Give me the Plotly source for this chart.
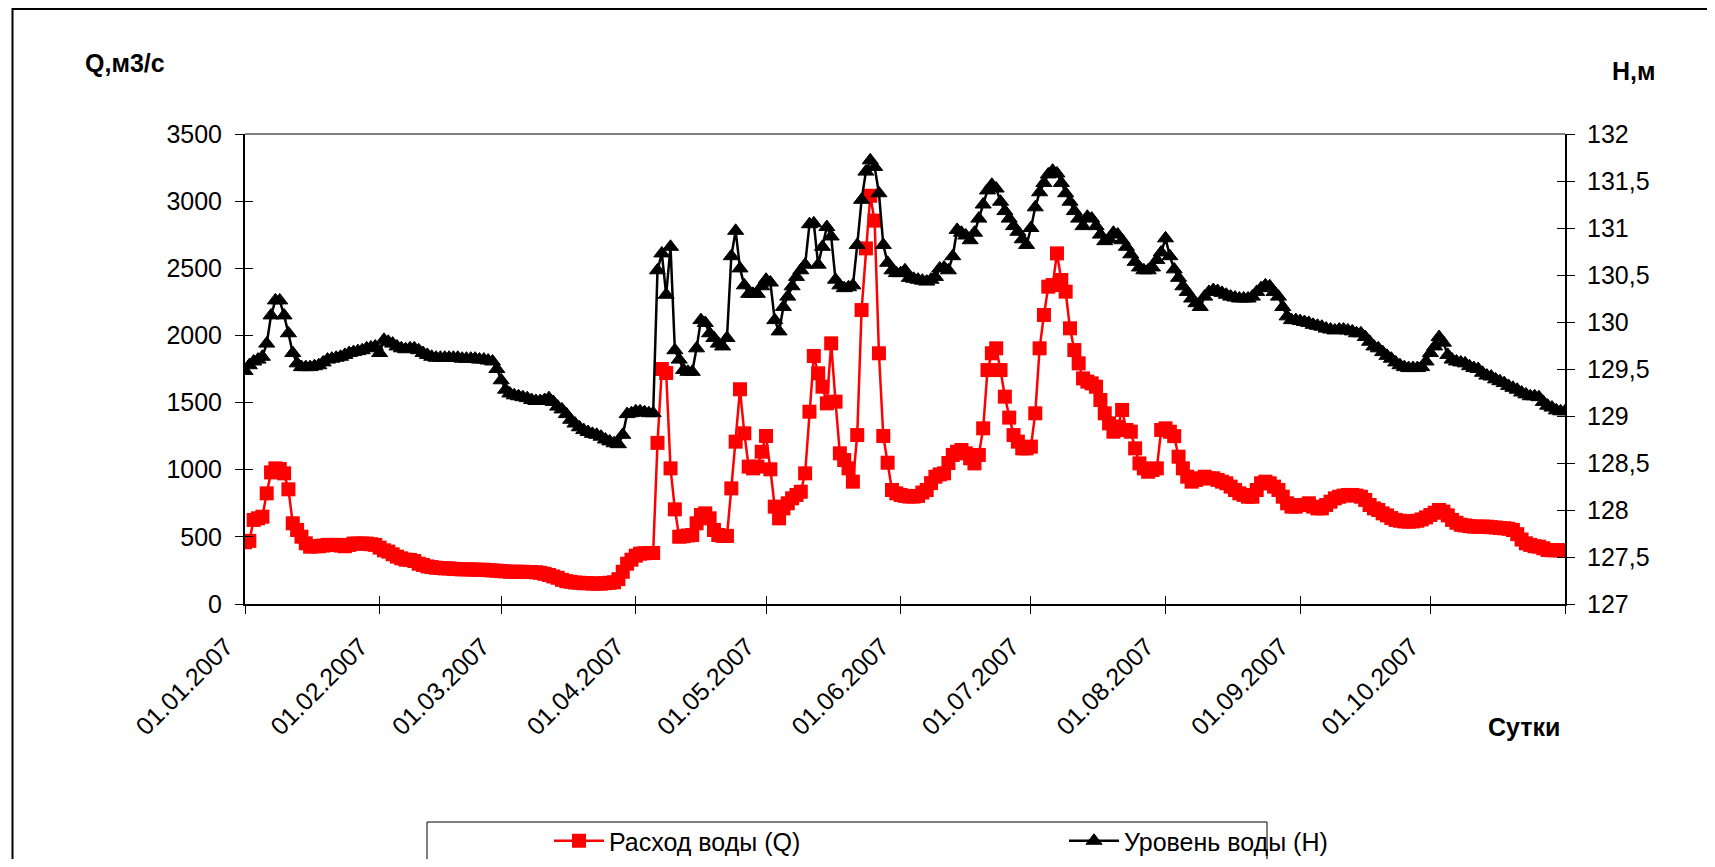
import datetime as dt
import plotly.graph_objects as go

# ---------------- data (daily, 01.01.2007 - 01.11.2007) ----------------
start_date = "2007-01-01"

q_jan = [460, 470, 626, 638, 650, 824, 980, 1010, 1005, 973, 854, 601, 551, 501, 452, 427, 430, 430, 435, 440,
         440, 440, 435, 430, 440, 450, 450, 450, 450, 445, 440]
q_feb = [420, 400, 390, 370, 353, 340, 330, 328, 320, 300, 291, 280, 275, 270, 268, 265, 265, 262, 260, 258,
         258, 258, 255, 255, 255, 252, 250, 248]
q_mar = [245, 243, 240, 240, 240, 240, 238, 238, 236, 232, 225, 216, 205, 195, 180, 170, 165, 160, 158, 155,
         155, 152, 152, 152, 155, 158, 162, 185, 240, 300, 330]
q_apr = [360, 375, 378, 380, 380, 1200, 1750, 1720, 1010, 705, 501, 505, 510, 514, 601, 663, 675, 638, 551, 514,
         507, 507, 861, 1209, 1599, 1271, 1023, 1010, 1023, 1134]
q_may = [1251, 1003, 725, 638, 712, 750, 787, 812, 836, 973, 1432, 1847, 1718, 1618, 1494, 1941, 1507, 1122, 1072,
         1010, 911, 1258, 2189, 2648, 3040, 2855, 1867, 1251, 1052, 849, 824]
q_jun = [812, 805, 800, 800, 805, 830, 849, 900, 948, 965, 973, 1050, 1110, 1134, 1147, 1122, 1085, 1047, 1110,
         1308, 1742, 1867, 1904, 1742, 1544, 1388, 1258, 1209, 1159, 1159]
q_jul = [1172, 1420, 1904, 2152, 2363, 2375, 2611, 2413, 2326, 2053, 1891, 1792, 1680, 1656, 1643, 1618, 1519,
         1420, 1345, 1283, 1320, 1445, 1296, 1283, 1159, 1047, 1010, 985, 998, 1010, 1296]
q_aug = [1308, 1283, 1250, 1097, 1010, 948, 911, 924, 936, 948, 936, 936, 924, 911, 899, 874, 849, 824, 812, 799,
         799, 849, 899, 911, 899, 874, 849, 799, 750, 725, 725]
q_sep = [737, 737, 750, 725, 712, 712, 737, 762, 787, 799, 807, 812, 812, 807, 799, 775, 737, 712, 700, 675,
         660, 640, 626, 620, 615, 613, 615, 620, 630, 645]
q_oct = [663, 680, 700, 688, 660, 626, 605, 590, 585, 580, 576, 576, 576, 576, 572, 570, 566, 564, 560, 551,
         520, 480, 452, 440, 430, 427, 415, 402, 400, 400, 400]
q_nov = [400]

h_jan = [129.48, 129.54, 129.58, 129.60, 129.63, 129.77, 130.07, 130.23, 130.23, 130.07, 129.88, 129.67, 129.56,
         129.52, 129.52, 129.52, 129.53, 129.54, 129.57, 129.60, 129.61, 129.62, 129.63, 129.65, 129.67, 129.68,
         129.69, 129.70, 129.72, 129.73, 129.74]
h_feb = [129.67, 129.81, 129.79, 129.77, 129.74, 129.72, 129.71, 129.72, 129.72, 129.70, 129.67, 129.65, 129.63,
         129.62, 129.62, 129.62, 129.62, 129.62, 129.62, 129.61, 129.61, 129.61, 129.61, 129.60, 129.60, 129.59,
         129.58, 129.50]
h_mar = [129.38, 129.28, 129.24, 129.22, 129.21, 129.20, 129.19, 129.17, 129.16, 129.16, 129.17, 129.19, 129.15,
         129.10, 129.07, 129.02, 128.96, 128.92, 128.88, 128.85, 128.83, 128.81, 128.80, 128.78, 128.75, 128.73,
         128.71, 128.70, 128.80, 129.02, 129.03]
h_apr = [129.05, 129.05, 129.04, 129.03, 129.03, 130.55, 130.73, 130.29, 130.80, 129.70, 129.60, 129.49, 129.47,
         129.47, 129.72, 130.02, 129.99, 129.88, 129.83, 129.77, 129.74, 129.83, 130.70, 130.97, 130.57, 130.39,
         130.30, 130.30, 130.30, 130.38]
h_may = [130.45, 130.42, 130.02, 129.90, 130.16, 130.27, 130.38, 130.48, 130.55, 130.61, 131.04, 131.05, 130.61,
         130.80, 131.01, 130.91, 130.45, 130.39, 130.36, 130.37, 130.39, 130.82, 131.30, 131.60, 131.72, 131.65,
         131.37, 130.82, 130.63, 130.55, 130.52]
h_jun = [130.52, 130.55, 130.47, 130.46, 130.45, 130.44, 130.43, 130.45, 130.48, 130.57, 130.58, 130.55, 130.70,
         130.98, 130.95, 130.92, 130.87, 130.95, 131.10, 131.25, 131.40, 131.46, 131.42, 131.28, 131.18, 131.10,
         131.02, 130.96, 130.88, 130.82]
h_jul = [131.00, 131.22, 131.38, 131.48, 131.57, 131.61, 131.58, 131.48, 131.37, 131.28, 131.18, 131.10, 131.02,
         131.12, 131.10, 131.02, 130.93, 130.86, 130.88, 130.95, 130.93, 130.87, 130.80, 130.72, 130.64, 130.58,
         130.55, 130.55, 130.58, 130.66, 130.74]
h_aug = [130.89, 130.70, 130.56, 130.47, 130.38, 130.32, 130.25, 130.20, 130.16, 130.27, 130.32, 130.34, 130.33,
         130.31, 130.29, 130.27, 130.26, 130.25, 130.25, 130.25, 130.27, 130.32, 130.36, 130.39, 130.38, 130.32,
         130.27, 130.16, 130.06, 130.02, 130.02]
h_sep = [130.01, 130.00, 129.99, 129.97, 129.96, 129.95, 129.93, 129.92, 129.91, 129.92, 129.92, 129.91, 129.90,
         129.88, 129.88, 129.84, 129.79, 129.74, 129.72, 129.68, 129.64, 129.61, 129.57, 129.54, 129.52, 129.51,
         129.51, 129.51, 129.52, 129.58]
h_oct = [129.67, 129.74, 129.84, 129.78, 129.65, 129.60, 129.58, 129.57, 129.56, 129.53, 129.51, 129.50, 129.46,
         129.43, 129.42, 129.39, 129.37, 129.35, 129.32, 129.30, 129.28, 129.25, 129.23, 129.21, 129.21, 129.20,
         129.15, 129.11, 129.09, 129.06, 129.05]
h_nov = [129.05]

x_tick_values = ["2007-01-01", "2007-02-01", "2007-03-01", "2007-04-01", "2007-05-01", "2007-06-01",
                 "2007-07-01", "2007-08-01", "2007-09-01", "2007-10-01", "2007-11-01"]
x_tick_labels = ["01.01.2007", "01.02.2007", "01.03.2007", "01.04.2007", "01.05.2007", "01.06.2007",
                 "01.07.2007", "01.08.2007", "01.09.2007", "01.10.2007", ""]
q_tick_values = [0, 500, 1000, 1500, 2000, 2500, 3000, 3500]
h_tick_values = [127, 127.5, 128, 128.5, 129, 129.5, 130, 130.5, 131, 131.5, 132]
h_tick_labels = ["127", "127,5", "128", "128,5", "129", "129,5", "130", "130,5", "131", "131,5", "132"]

name_q = "Расход воды (Q)"
name_h = "Уровень воды (Н)"

# ---------------- build ----------------
q_all = q_jan + q_feb + q_mar + q_apr + q_may + q_jun + q_jul + q_aug + q_sep + q_oct + q_nov
h_all = h_jan + h_feb + h_mar + h_apr + h_may + h_jun + h_jul + h_aug + h_sep + h_oct + h_nov
d0 = dt.date.fromisoformat(start_date)
dates = [d0 + dt.timedelta(days=i) for i in range(len(q_all))]

FONT = "Arial, Liberation Sans, sans-serif"
FS = 25

# page geometry (the html body adds an 8px margin, so the figure is 1699x851)
OFF = 8
W, H = 1715 - 2 * OFF, 867 - 2 * OFF
L, R, T, B = 245, 1565, 134, 604          # plot area in page pixels
def px(x):
    return (x - L) / (R - L)
def py(y):
    return (B - y) / (B - T)

fig = go.Figure()
fig.add_trace(go.Scatter(x=dates, y=q_all, name=name_q, mode="lines+markers",
                         line=dict(color="#FF0000", width=2.5),
                         marker=dict(symbol="square", size=14, color="#FF0000"),
                         xaxis="x", yaxis="y"))
fig.add_trace(go.Scatter(x=dates, y=h_all, name=name_h, mode="lines+markers",
                         line=dict(color="#000000", width=2.5),
                         marker=dict(symbol="triangle-up", size=14, color="#000000",
                                     line=dict(color="#000000", width=1)),
                         xaxis="x", yaxis="y2"))
# empty helper traces so the "inside" tick axes (cross tick marks) are drawn
fig.add_trace(go.Scatter(x=[], y=[], xaxis="x2", yaxis="y3", showlegend=False, hoverinfo="skip"))
fig.add_trace(go.Scatter(x=[], y=[], xaxis="x", yaxis="y4", showlegend=False, hoverinfo="skip"))

xr = ["2007-01-01", "2007-11-01"]
common_tick = dict(tickfont=dict(family=FONT, size=FS, color="#000"), tickcolor="#000",
                   showgrid=False, zeroline=False)

fig.update_layout(
    width=W, height=H,
    margin=dict(l=L - OFF, r=W - (R - OFF), t=T - OFF, b=H - (B - OFF), pad=0, autoexpand=False),
    paper_bgcolor="white", plot_bgcolor="white",
    font=dict(family=FONT, size=FS, color="#000"),
    showlegend=True,
    legend=dict(orientation="h", x=px(549), y=py(818), xanchor="left", yanchor="top",
                font=dict(family=FONT, size=25, color="#000"),
                bgcolor="rgba(0,0,0,0)", borderwidth=0, entrywidth=450, itemwidth=50,
                traceorder="normal"),
    xaxis=dict(type="date", range=xr, tickvals=x_tick_values, ticktext=x_tick_labels,
               tickangle=-45, ticks="outside", ticklen=8, tickwidth=1,
               ticklabelstandoff=8, ticklabelshift=-19,
               showline=True, linecolor="#000", linewidth=2, **common_tick),
    xaxis2=dict(type="date", range=xr, tickvals=x_tick_values, overlaying="x", anchor="y",
                ticks="inside", ticklen=8, tickwidth=1, showticklabels=False, showline=False,
                **common_tick),
    yaxis=dict(range=[0, 3500], tickvals=q_tick_values, ticks="outside", ticklen=8, tickwidth=1,
               ticklabelstandoff=8,
               showline=True, linecolor="#000", linewidth=2, **common_tick),
    yaxis2=dict(range=[127, 132], tickvals=h_tick_values, ticktext=h_tick_labels, overlaying="y",
                side="right", anchor="x", ticks="outside", ticklen=8, tickwidth=1,
                ticklabelstandoff=7,
                showline=True, linecolor="#000", linewidth=2, **common_tick),
    yaxis3=dict(range=[0, 3500], tickvals=q_tick_values, overlaying="y", side="left", anchor="x2",
                ticks="inside", ticklen=8, tickwidth=1, showticklabels=False, showline=False,
                **common_tick),
    yaxis4=dict(range=[127, 132], tickvals=h_tick_values, overlaying="y", side="right", anchor="x",
                ticks="inside", ticklen=8, tickwidth=1, showticklabels=False, showline=False,
                **common_tick),
)

shapes = [
    # plot-area top border (gray)
    dict(type="line", xref="paper", yref="paper", x0=0, x1=1, y0=1, y1=1,
         line=dict(color="#808080", width=2)),
    # outer chart border (cropped on the right and bottom)
    dict(type="rect", xref="paper", yref="paper", x0=px(12.5), x1=px(1760), y0=py(900), y1=py(9),
         line=dict(color="#000", width=2), layer="below"),
    # legend frame (cropped at the bottom)
    dict(type="rect", xref="paper", yref="paper", x0=px(427), x1=px(1267), y0=py(900), y1=py(822),
         line=dict(color="#000", width=1), layer="below"),
]
fig.update_layout(shapes=shapes)

bold = dict(family=FONT, size=FS, color="#000")
fig.add_annotation(text="<b>Q,м3/с</b>", xref="paper", yref="paper", x=px(83), y=py(63),
                   xanchor="left", yanchor="middle", showarrow=False, font=bold)
fig.add_annotation(text="<b>Н,м</b>", xref="paper", yref="paper", x=px(1610), y=py(71),
                   xanchor="left", yanchor="middle", showarrow=False, font=bold)
fig.add_annotation(text="<b>Сутки</b>", xref="paper", yref="paper", x=px(1562), y=py(727),
                   xanchor="right", yanchor="middle", showarrow=False, font=bold)

fig.write_html("out.html")
